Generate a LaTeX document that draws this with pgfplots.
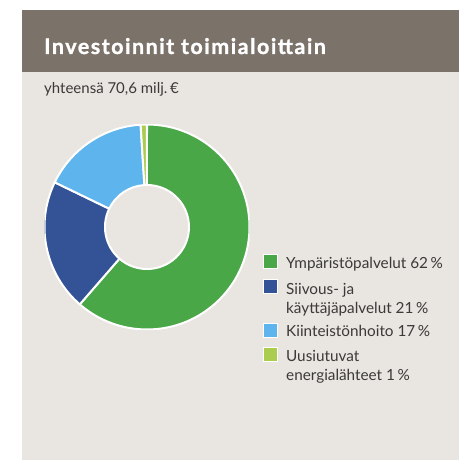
\documentclass[border=0pt]{standalone}
\usepackage{pgfplots}
\pgfplotsset{compat=1.18}
\usepackage{pgfplotstable}
\usepackage{fontspec}
\setmainfont{Lato}
\definecolor{grn}{HTML}{4AA747}
\definecolor{blu}{HTML}{345296}
\definecolor{lblu}{HTML}{5EB4EC}
\definecolor{lgrn}{HTML}{AACD50}
\definecolor{panel}{HTML}{E9E5E0}
\definecolor{head}{HTML}{7B7269}
\definecolor{txt}{HTML}{3A3A3A}

% share of investments, clockwise from the top
\pgfplotstableread{
value color
62 grn
21 blu
17 lblu
1 lgrn
}\shares

\begin{document}
\begin{tikzpicture}[x=1pt,y=1pt]
\fill[white] (0,0) rectangle (459,460);
\useasboundingbox (0,0) rectangle (459,460);
\fill[panel] (22,0) rectangle (459,450);
\fill[head] (22,388) rectangle (459,450);
\node[anchor=base west, text=white, font=\bfseries\fontsize{21.5}{24}\selectfont\addfontfeature{LetterSpace=7,FakeBold=1.2}, inner sep=0pt] at (44,406) {Investoinnit toimialoittain};
\node[anchor=base west, text=txt, font=\fontsize{15}{18}\selectfont, inner sep=0pt] at (44,366) {yhteensä 70,6 milj.\,€};

\begin{axis}[at={(147pt,233pt)}, anchor=center, scale only axis,
  width=205pt, height=205pt, hide axis,
  xmin=-1, xmax=1, ymin=-1, ymax=1]
\def\total{0}
\pgfplotsforeachungrouped \i in {0,...,3}{%
  \pgfplotstablegetelem{\i}{value}\of\shares
  \pgfmathsetmacro\total{\total+\pgfplotsretval}%
}
\def\curang{90}
\pgfplotsforeachungrouped \i in {0,...,3}{%
  \pgfplotstablegetelem{\i}{value}\of\shares \let\v\pgfplotsretval
  \pgfplotstablegetelem{\i}{color}\of\shares \let\c\pgfplotsretval
  \pgfmathsetmacro\nextang{\curang-\v/\total*360}%
  \edef\temp{\noexpand\filldraw[fill=\c, draw=white, line width=2pt, line join=round]
    (axis cs:{cos(\curang)},{sin(\curang)})
    arc[start angle=\curang, end angle=\nextang, radius=102.5pt]
    -- (axis cs:{0.41*cos(\nextang)},{0.41*sin(\nextang)})
    arc[start angle=\nextang, end angle=\curang, radius=42pt] -- cycle;}%
  \temp
  \global\let\curang\nextang
}
\end{axis}

\begin{scope}[every node/.style={anchor=base west, text=txt, font=\fontsize{15.3}{18}\selectfont, inner sep=0pt}]
\fill[grn, draw=white, line width=0.6pt] (263,192) rectangle (277,206);
\node at (286,191) {Ympäristöpalvelut 62\,\%};
\fill[blu, draw=white, line width=0.6pt] (263,167) rectangle (277,181);
\node at (286,165) {Siivous- ja};
\node at (286,146) {käyttäjäpalvelut 21\,\%};
\fill[lblu, draw=white, line width=0.6pt] (263,123) rectangle (277,137);
\node at (286,123) {Kiinteistönhoito 17\,\%};
\fill[lgrn, draw=white, line width=0.6pt] (263,99) rectangle (277,113);
\node at (286,98) {Uusiutuvat};
\node at (286,79) {energialähteet 1\,\%};
\end{scope}
\end{tikzpicture}
\end{document}
